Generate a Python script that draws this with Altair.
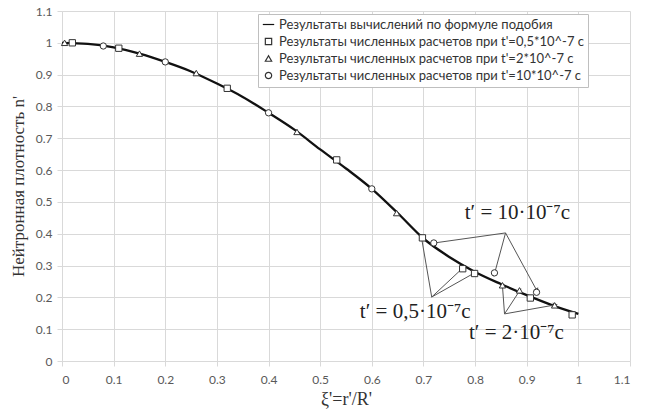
import math
import altair as alt
import pandas as pd

# ---- data ----
formula_x = [0.0, 0.05, 0.1, 0.15, 0.2, 0.25, 0.3, 0.35, 0.4, 0.45, 0.5, 0.55, 0.6, 0.65, 0.7, 0.75, 0.8, 0.85, 0.9, 0.95, 1.0]
formula_y = [1.0, 0.997, 0.986, 0.966, 0.94, 0.91, 0.872, 0.83, 0.78, 0.727, 0.665, 0.605, 0.541, 0.465, 0.385, 0.327, 0.28, 0.242, 0.207, 0.175, 0.148]

sq_x = [0.02, 0.11, 0.32, 0.532, 0.698, 0.776, 0.799, 0.907, 0.988]
sq_y = [1.0, 0.983, 0.857, 0.632, 0.387, 0.29, 0.275, 0.198, 0.145]
tr_x = [0.005, 0.15, 0.26, 0.455, 0.648, 0.853, 0.886, 0.954]
tr_y = [1.0, 0.966, 0.905, 0.72, 0.465, 0.238, 0.222, 0.175]
ci_x = [0.08, 0.2, 0.4, 0.6, 0.72, 0.8375, 0.919]
ci_y = [0.99, 0.94, 0.78, 0.541, 0.371, 0.277, 0.216]

series_names = [
    "Результаты вычислений по формуле подобия",
    "Результаты численных расчетов при t'=0,5*10^-7 с",
    "Результаты численных расчетов при t'=2*10^-7 с",
    "Результаты численных расчетов при t'=10*10^-7 с",
]

label_text = ["t′ = 10·10⁻⁷c", "t′ = 0,5·10⁻⁷c", "t′ = 2·10⁻⁷c"]
label_x = [0.882, 0.684, 0.88]
label_y = [0.465, 0.155, 0.087]

arrow_x1 = [0.859, 0.859, 0.859, 0.716, 0.716, 0.716, 0.857, 0.857, 0.857]
arrow_y1 = [0.4025, 0.4025, 0.4025, 0.201, 0.201, 0.201, 0.148, 0.148, 0.148]
arrow_x2 = [0.721, 0.8375, 0.919, 0.696, 0.776, 0.799, 0.853, 0.886, 0.954]
arrow_y2 = [0.371, 0.274, 0.223, 0.39, 0.292, 0.277, 0.236, 0.22, 0.176]

ticks = [round(i * 0.1, 1) for i in range(12)]

W, H = 568, 350

# ---- frames ----
df_line = pd.DataFrame({"x": formula_x, "y": formula_y})
pts = []
for name, xs_, ys_ in [(series_names[1], sq_x, sq_y), (series_names[2], tr_x, tr_y), (series_names[3], ci_x, ci_y)]:
    for a, b in zip(xs_, ys_):
        pts.append({"x": a, "y": b, "s": name})
df_pts = pd.DataFrame(pts)

kx, ky = W / 1.1, H / 1.1
arr = []
for a, b, c, d in zip(arrow_x1, arrow_y1, arrow_x2, arrow_y2):
    dx = (c - a) * kx
    dy = -(d - b) * ky
    ang = math.degrees(math.atan2(dx, -dy)) % 360
    arr.append({"x": a, "y": b, "x2": c, "y2": d, "ang": ang})
df_arr = pd.DataFrame(arr)
df_lab = pd.DataFrame({"x": label_x, "y": label_y, "t": label_text})

xs = alt.Scale(domain=[0, 1.1], nice=False, zero=False)
ys = alt.Scale(domain=[0, 1.1], nice=False, zero=False)

xax = alt.Axis(values=ticks, format=".1~f", title="ξ'=r'/R'", grid=True, labelOverlap=False, tickCount=12)
yax = alt.Axis(values=ticks, format=".1~f", title="Нейтронная плотность n'", grid=True, labelOverlap=False, tickCount=12)


def X(f):
    return alt.X(f, type="quantitative", scale=xs, axis=xax)


def Y(f):
    return alt.Y(f, type="quantitative", scale=ys, axis=yax)


line = alt.Chart(df_line).mark_line(color="#111111", strokeWidth=2.3, interpolate="monotone").encode(
    x=X("x"), y=Y("y"),
)

shape_scale = alt.Scale(domain=series_names, range=["M-1.8,0L1.8,0", "square", "triangle-up", "circle"])
color_scale = alt.Scale(domain=series_names, range=["#111111", "#333333", "#333333", "#333333"])
leg = alt.Legend(orient="none", legendX=196, legendY=3, title=None)

points = alt.Chart(df_pts).mark_point(filled=False, fill="white", fillOpacity=1, strokeWidth=1, size=40, opacity=1).encode(
    x=X("x"),
    y=Y("y"),
    shape=alt.Shape("s:N", scale=shape_scale, title=None, legend=leg),
    color=alt.Color("s:N", scale=color_scale, title=None, legend=leg),
)

rules = alt.Chart(df_arr).mark_rule(color="#555555", strokeWidth=1).encode(
    x=X("x"), y=Y("y"), x2="x2:Q", y2="y2:Q"
)
heads = alt.Chart(df_arr).mark_point(shape="triangle", filled=True, color="#555555", size=30, opacity=1).encode(
    x=X("x2"), y=Y("y2"), angle=alt.Angle("ang:Q", scale=None)
)

labels = alt.Chart(df_lab).mark_text(font="Liberation Serif", fontSize=21, color="#222222").encode(
    x=X("x"), y=Y("y"), text="t:N"
)

chart = alt.layer(line, rules, heads, points, labels).properties(
    width=W, height=H,
    autosize=alt.AutoSizeParams(type="none"),
    padding={"left": 62, "top": 11, "right": 16, "bottom": 55},
    background="white",
).configure_view(stroke=None).configure_axis(
    gridColor="#d9d9d9", gridWidth=1,
    domainColor="#d9d9d9", tickColor="#d9d9d9", tickSize=5,
    labelFont="Lato", labelFontSize=12, labelColor="#595959",
    titleFont="Liberation Serif", titleFontSize=17, titleFontWeight="normal", titleColor="#333333",
).configure_axisX(labelPadding=8, titlePadding=5, titleFontSize=18).configure_axisY(labelPadding=5, titlePadding=8).configure_legend(
    fillColor="white", strokeColor="#bfbfbf", padding=4,
    labelFont="Lato", labelFontSize=13, labelColor="#333333",
    rowPadding=3, labelLimit=400,
    symbolSize=40, symbolStrokeWidth=1.2, symbolFillColor="white",
)

chart.save("out.html", embed_options={"renderer": "svg", "actions": False})
